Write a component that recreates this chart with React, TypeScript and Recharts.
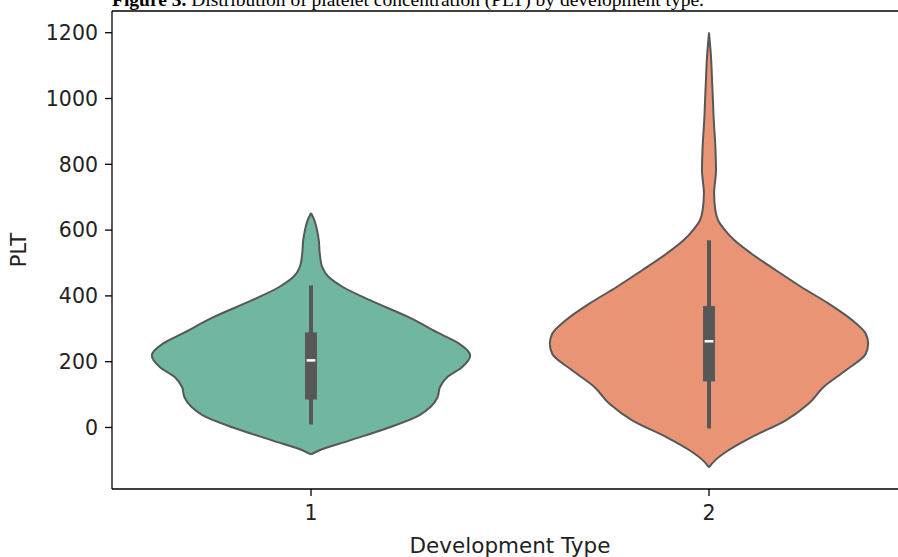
import React from "react";
import {
  ComposedChart,
  Area,
  XAxis,
  YAxis,
  ReferenceLine,
  ReferenceArea,
} from "recharts";

// categories on the x axis
const groups = ["1", "2"];

// violin outlines: PLT level and relative density (1 = widest point)
const levels1 = [-82, -70, -40, 0, 37, 62, 92, 123, 153, 184, 219, 255, 285, 336, 387, 427, 458, 488, 529, 569, 600, 630, 652];
const density1 = [0, 0.05, 0.24, 0.49, 0.68, 0.75, 0.795, 0.81, 0.855, 0.95, 1.0, 0.93, 0.81, 0.61, 0.37, 0.2, 0.11, 0.07, 0.055, 0.049, 0.038, 0.021, 0];

const levels2 = [-121, -100, -70, -30, 21, 72, 123, 174, 224, 255, 285, 326, 377, 427, 478, 529, 569, 600, 630, 661, 711, 782, 853, 934, 1036, 1137, 1200];
const density2 = [0, 0.038, 0.12, 0.265, 0.48, 0.625, 0.72, 0.86, 0.985, 1.0, 0.985, 0.9, 0.75, 0.58, 0.42, 0.265, 0.16, 0.1, 0.057, 0.04, 0.032, 0.044, 0.04, 0.03, 0.021, 0.011, 0];

// inner box plot stats per group
const whiskerLow = [9, -3];
const q1 = [85, 140];
const median = [204, 262];
const q3 = [289, 369];
const whiskerHigh = [432, 569];

const yTicks = [0, 200, 400, 600, 800, 1000, 1200];
const yDomain = [-187, 1266];

const fills = ["#71b6a0", "#e99575"];
const lineColor = "#575757";
const halfWidth = 0.4;
const font = "DejaVu Sans";

// one outline table per violin: [left, right] in x units at each PLT level
function outline(levels: number[], dens: number[], idx: number) {
  return levels.map((lv, i) => {
    const w = halfWidth * dens[i];
    return { plt: lv, range: [idx - w, idx + w] };
  });
}

const violinData = [outline(levels1, density1, 0), outline(levels2, density2, 1)];
const allRows = [...violinData[0], ...violinData[1]].sort((a, b) => a.plt - b.plt);

function YLabel(props: any) {
  const vb = props.viewBox || { y: 11, height: 478 };
  const cx = 19;
  const cy = vb.y + vb.height / 2;
  return (
    <text
      x={cx}
      y={cy}
      transform={`rotate(-90 ${cx} ${cy})`}
      textAnchor="middle"
      dominantBaseline="central"
      fontFamily={font}
      fontSize={21}
      fill="#222"
    >
      PLT
    </text>
  );
}

export default function App() {
  const tickStyle = { fill: "#222", fontSize: 20.5, fontFamily: font };
  return (
    <div style={{ position: "absolute", left: 0, top: 0, width: 898, height: 557, background: "#fff", overflow: "hidden" }}>
      <svg width={898} height={20} style={{ position: "absolute", left: 0, top: 0 }}>
        <text x={112} y={6} fontFamily="Liberation Serif" fontSize={19.5} fill="#000">
          <tspan fontWeight="bold">Figure 3.</tspan> Distribution of platelet concentration (PLT) by development type.
        </text>
      </svg>
      <ComposedChart
        layout="vertical"
        width={898}
        height={557}
        data={allRows}
        margin={{ top: 11, right: -10, bottom: 0, left: 0 }}
      >
        <XAxis
          type="number"
          domain={[-0.5, 1.5]}
          ticks={[0, 1]}
          tickFormatter={(v) => groups[v]}
          allowDataOverflow
          height={68}
          tickSize={7}
          tickMargin={9}
          tick={tickStyle}
          stroke="#000"
          strokeWidth={1.3}
          label={{
            value: "Development Type",
            position: "insideBottom",
            offset: 4,
            style: { fill: "#222", fontSize: 21.5, fontFamily: font },
          }}
        />
        <YAxis
          type="number"
          dataKey="plt"
          domain={yDomain}
          ticks={yTicks}
          reversed
          allowDataOverflow
          width={112}
          tickSize={7}
          tickMargin={7}
          tick={tickStyle}
          stroke="#000"
          strokeWidth={1.3}
          label={<YLabel />}
        />
        <ReferenceLine y={yDomain[1]} stroke="#000" strokeWidth={1.3} ifOverflow="visible" />
        {groups.map((g, i) => (
          <Area
            key={g}
            data={violinData[i]}
            dataKey="range"
            type="monotone"
            fill={fills[i]}
            fillOpacity={1}
            stroke={lineColor}
            strokeWidth={2}
            dot={false}
            activeDot={false}
            isAnimationActive={false}
          />
        ))}
        {groups.map((g, i) => (
          <ReferenceLine
            key={"w" + g}
            segment={[
              { x: i, y: whiskerLow[i] },
              { x: i, y: whiskerHigh[i] },
            ]}
            stroke={lineColor}
            strokeWidth={4}
          />
        ))}
        {groups.map((g, i) => (
          <ReferenceArea
            key={"b" + g}
            x1={i - 0.015}
            x2={i + 0.015}
            y1={q1[i]}
            y2={q3[i]}
            fill={lineColor}
            fillOpacity={1}
            stroke="none"
          />
        ))}
        {groups.map((g, i) => (
          <ReferenceLine
            key={"m" + g}
            segment={[
              { x: i - 0.011, y: median[i] },
              { x: i + 0.011, y: median[i] },
            ]}
            stroke="#fff"
            strokeWidth={2.5}
          />
        ))}
      </ComposedChart>
    </div>
  );
}
